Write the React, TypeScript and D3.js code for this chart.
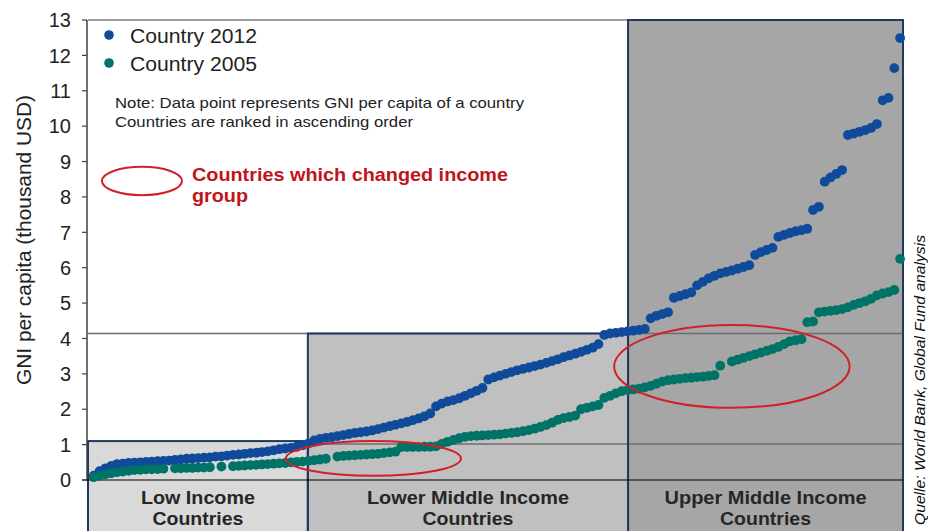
import * as d3 from "d3";

// GNI per capita (thousand USD), countries ranked ascending, one value per rank
const gni2012 = [
  0.12, 0.25, 0.33, 0.4, 0.45, 0.46, 0.48, 0.49, 0.5, 0.51,
  0.52, 0.53, 0.54, 0.55, 0.57, 0.58, 0.6, 0.61, 0.62, 0.63,
  0.64, 0.66, 0.67, 0.69, 0.71, 0.72, 0.74, 0.76, 0.77, 0.79,
  0.81, 0.84, 0.87, 0.89, 0.91, 0.94, 0.98, 1.03, 1.12, 1.16,
  1.19, 1.21, 1.24, 1.27, 1.3, 1.33, 1.35, 1.37, 1.4, 1.44,
  1.48, 1.52, 1.56, 1.6, 1.64, 1.69, 1.74, 1.8, 1.88, 2.08,
  2.16, 2.22, 2.26, 2.31, 2.38, 2.45, 2.52, 2.6, 2.84, 2.9,
  2.95, 3.0, 3.05, 3.1, 3.14, 3.18, 3.22, 3.26, 3.31, 3.36,
  3.41, 3.47, 3.52, 3.57, 3.62, 3.68, 3.74, 3.84, 4.1, 4.14,
  4.16, 4.18, 4.2, 4.22, 4.24, 4.27, 4.57, 4.64, 4.69, 4.74,
  5.15, 5.2, 5.25, 5.3, 5.5, 5.6, 5.7, 5.77, 5.84, 5.88,
  5.92, 5.97, 6.02, 6.07, 6.36, 6.44, 6.5, 6.56, 6.87, 6.93,
  6.98, 7.03, 7.06, 7.1, 7.63, 7.72, 8.43, 8.55, 8.65, 8.76,
  9.75, 9.79, 9.84, 9.89, 9.95, 10.06, 10.73, 10.8, 11.64, 12.49,
];

const gni2005: (number | null)[] = [
  0.08, 0.12, 0.16, 0.19, 0.22, 0.24, 0.26, 0.28, 0.29, 0.3,
  0.3, 0.31, 0.32, null, 0.33, 0.33, 0.34, 0.34, 0.35, 0.35,
  0.36, null, 0.38, null, 0.39, 0.4, 0.41, 0.42, 0.43, 0.44,
  0.45, 0.46, 0.47, 0.48, 0.5, 0.51, 0.52, 0.54, 0.56, 0.58,
  0.6, null, 0.66, 0.68, 0.69, 0.7, 0.71, 0.72, 0.73, 0.74,
  0.76, 0.78, 0.8, 0.93, 0.93, 0.93, 0.93, 0.94, 0.94, 0.95,
  1.02, 1.08, 1.13, 1.18, 1.22, 1.24, 1.25, 1.26, 1.27, 1.28,
  1.29, 1.31, 1.33, 1.35, 1.38, 1.41, 1.45, 1.5, 1.55, 1.62,
  1.7, 1.75, 1.78, 1.82, 2.0, 2.04, 2.08, 2.12, 2.32, 2.38,
  2.45, 2.51, 2.54, 2.56, 2.58, 2.62, 2.66, 2.72, 2.78, 2.82,
  2.84, 2.86, 2.88, 2.89, 2.91, 2.92, 2.94, 2.96, 3.23, null,
  3.35, 3.4, 3.45, 3.5, 3.55, 3.6, 3.65, 3.7, 3.76, 3.84,
  3.92, 3.95, 3.98, 4.46, 4.48, 4.74, 4.76, 4.78, 4.8, 4.83,
  4.88, 4.95, 5.0, 5.05, 5.12, 5.22, 5.27, 5.31, 5.37, 6.25,
];

// income groups (rank ranges and box heights)
const groupNames = [["Low Income", "Countries"], ["Lower Middle Income", "Countries"], ["Upper Middle Income", "Countries"]];
const groupBounds = [0, 37.9, 93.1, 140.5];
const groupTops = [1.1, 4.14, 13];
const groupFills = ["#d9d9d9", "#c0c0c0", "#a6a6a6"];

// threshold lines: [value, from rank]
const thresholds: [number, number][] = [[1.02, 37.9], [4.14, 0]];

// red ellipses in data units (rank, value)
const ellipses = [
  { cx: 9.3, cy: 8.45, rx: 6.9, ry: 0.4 },
  { cx: 49.2, cy: 0.61, rx: 15.1, ry: 0.49 },
  { cx: 111.0, cy: 3.21, rx: 20.3, ry: 1.17 },
];

const BLUE = "#104a9a";
const GREEN = "#007368";
const RED = "#d0202a";
const NAVY = "#1f3864";
const FONT = "'Liberation Sans', Arial, sans-serif";

export default function App() {
  const W = 928;
  const H = 531;
  const x = d3.scaleLinear().domain([0, 140.5]).range([88, 903]);
  const y = d3.scaleLinear().domain([0, 13]).range([480, 20]);
  const yTicks = y.ticks(13);

  return (
    <svg
      width={W}
      height={H}
      style={{ position: "absolute", left: 0, top: 0, background: "#fff" }}
      fontFamily={FONT}
    >
      {/* group box fills */}
      {groupNames.map((_, i) => (
        <rect
          key={"f" + i}
          x={x(groupBounds[i])}
          y={y(groupTops[i])}
          width={x(groupBounds[i + 1]) - x(groupBounds[i])}
          height={H + 10 - y(groupTops[i])}
          fill={groupFills[i]}
        />
      ))}

      {/* threshold lines and top border */}
      {thresholds.map(([v, from], i) => (
        <line key={"t" + i} x1={x(from)} x2={x(140.5)} y1={y(v)} y2={y(v)} stroke="#6e6e6e" strokeWidth={1.5} />
      ))}
      <line x1={x(0)} x2={x(93.1)} y1={y(13)} y2={y(13)} stroke="#808080" strokeWidth={1.5} />

      {/* group box outlines */}
      {groupNames.map((_, i) => (
        <rect
          key={"s" + i}
          x={x(groupBounds[i])}
          y={y(groupTops[i])}
          width={x(groupBounds[i + 1]) - x(groupBounds[i])}
          height={H + 10 - y(groupTops[i])}
          fill="none"
          stroke={NAVY}
          strokeWidth={2}
        />
      ))}

      {/* axes */}
      <line x1={x(0) - 1} x2={x(0) - 1} y1={y(13)} y2={y(0)} stroke="#404040" strokeWidth={1.5} />
      <line x1={x(0) - 6} x2={x(140.5)} y1={y(0)} y2={y(0)} stroke="#000" strokeWidth={1.2} />
      {yTicks.map((t) => (
        <g key={"yt" + t}>
          <line x1={x(0) - 6} x2={x(0) - 1} y1={y(t)} y2={y(t)} stroke="#404040" strokeWidth={1.2} />
          <text x={71} y={y(t)} dy="0.36em" textAnchor="end" fontSize={20} fill="#222">
            {t}
          </text>
        </g>
      ))}
      <text
        transform={`translate(31,${y(6.5) - 10}) rotate(-90)`}
        textAnchor="middle"
        fontSize={19.5}
        textLength={290}
        lengthAdjust="spacingAndGlyphs"
        fill="#222"
      >
        GNI per capita (thousand USD)
      </text>

      {/* data points */}
      <g fill={BLUE}>
        {gni2012.map((v, i) => (
          <circle key={"b" + i} cx={x(i + 1)} cy={y(v)} r={4.9} />
        ))}
      </g>
      <g fill={GREEN}>
        {gni2005.map((v, i) =>
          v == null ? null : <circle key={"g" + i} cx={x(i + 1)} cy={y(v)} r={4.9} />
        )}
      </g>

      {/* ellipses */}
      {ellipses.map((e, i) => (
        <ellipse
          key={"e" + i}
          cx={x(e.cx)}
          cy={y(e.cy)}
          rx={x(e.cx + e.rx) - x(e.cx)}
          ry={y(e.cy - e.ry) - y(e.cy)}
          fill="none"
          stroke={RED}
          strokeWidth={2}
        />
      ))}

      {/* legend */}
      <circle cx={109} cy={35} r={4.8} fill={BLUE} />
      <text x={130} y={36} dy="0.36em" fontSize={20} textLength={127} lengthAdjust="spacingAndGlyphs" fill="#222">
        Country 2012
      </text>
      <circle cx={109} cy={63} r={4.8} fill={GREEN} />
      <text x={130} y={64} dy="0.36em" fontSize={20} textLength={127} lengthAdjust="spacingAndGlyphs" fill="#222">
        Country 2005
      </text>

      <text x={115} y={103} dy="0.36em" fontSize={15} textLength={409} lengthAdjust="spacingAndGlyphs" fill="#222">
        Note: Data point represents GNI per capita of a country
      </text>
      <text x={115} y={122} dy="0.36em" fontSize={15} textLength={298} lengthAdjust="spacingAndGlyphs" fill="#222">
        Countries are ranked in ascending order
      </text>

      <text x={192} y={174} dy="0.36em" fontSize={18.5} fontWeight="bold" textLength={316} lengthAdjust="spacingAndGlyphs" fill="#c0141c">
        Countries which changed income
      </text>
      <text x={192} y={195} dy="0.36em" fontSize={18.5} fontWeight="bold" textLength={56} lengthAdjust="spacingAndGlyphs" fill="#c0141c">
        group
      </text>

      {/* group labels */}
      {groupNames.map((lines, i) => {
        const cx = (x(groupBounds[i]) + x(groupBounds[i + 1])) / 2;
        return (
          <g key={"l" + i}>
            {lines.map((ln, j) => (
              <text
                key={j}
                x={cx}
                y={497 + j * 21}
                dy="0.36em"
                textAnchor="middle"
                fontSize={19}
                fontWeight="bold"
                fill="#262626"
                textLength={j === 0 ? (i === 0 ? 114 : 202) : 91}
                lengthAdjust="spacingAndGlyphs"
              >
                {ln}
              </text>
            ))}
          </g>
        );
      })}

      {/* source */}
      <text
        transform="translate(925,380) rotate(-90)"
        textAnchor="middle"
        fontSize={14.5}
        fontStyle="italic"
        textLength={290}
        lengthAdjust="spacingAndGlyphs"
        fill="#111"
      >
        Quelle: World Bank, Global Fund analysis
      </text>
    </svg>
  );
}
